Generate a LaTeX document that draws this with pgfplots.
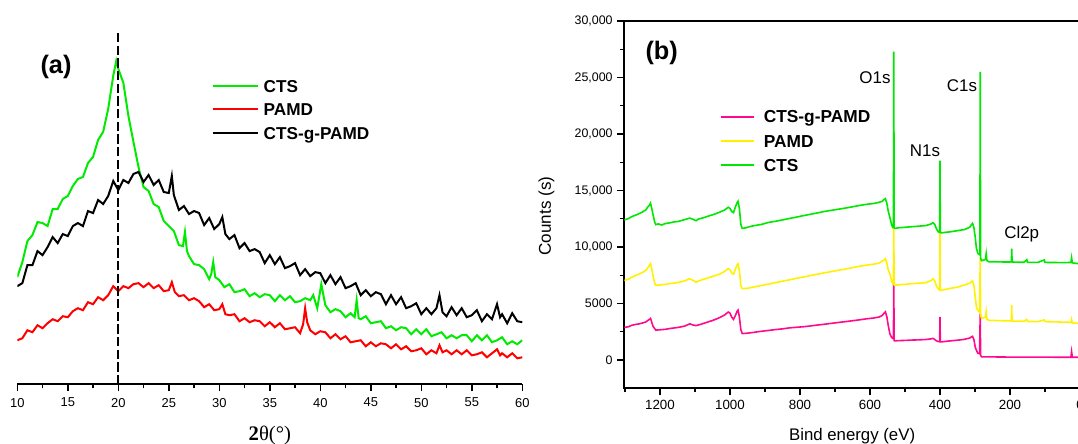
\documentclass[border=0pt]{standalone}
\usepackage{fontspec}
\setmainfont{Liberation Sans}
\newfontfamily\serifont{Liberation Serif}
\usepackage{pgfplots}
\pgfplotsset{compat=1.18}
\definecolor{xgreen}{RGB}{0,235,0}
\definecolor{xred}{RGB}{255,0,0}
\definecolor{ppink}{RGB}{255,10,140}
\definecolor{pyellow}{RGB}{255,242,0}
\definecolor{pgreen}{RGB}{0,232,0}
\begin{document}
\begin{tikzpicture}
\path[use as bounding box] (0,0) rectangle (808.5pt,332.25pt);
% ---------------- panel (a) ----------------
\begin{axis}[
  at={(12.975pt,44.0pt)}, anchor=south west, scale only axis,
  width=378.75pt, height=264.45pt,
  xmin=10, xmax=60, ymin=0, ymax=352,
  axis x line*=bottom, axis y line*=left,
  y axis line style={opacity=0}, ytick=\empty,
  x axis line style={line width=1.5pt, black},
  xtick={10,15,...,60}, minor xtick={12.5,17.5,...,57.5},
  tick align=outside, major tick length=5.25pt, minor tick length=3pt,
  every tick/.style={black, line width=1.1pt},
  /pgf/number format/assume math mode=true,
  xticklabel style={font=\fontsize{9.7}{11}\selectfont, yshift=-1.5pt},
  xlabel={{\serifont\bfseries 2}{\serifont θ(°)}},
  xlabel style={font=\fontsize{15.5}{17}\selectfont, at={(axis description cs:0.5,-0.158)}, anchor=base},
  clip=true,
]
\addplot[xgreen, line width=1.5pt] coordinates {(10,107)(10.5,122)(11,143)(11.5,149)(12,162)(12.5,161)(13,158)(13.5,175)(14,175)(14.5,185)(15,188)(15.5,198)(16,205)(16.5,207)(17,221)(17.5,227)(18,244)(18.5,252)(19,275)(19.5,308)(19.8,323)(20,315)(20.5,301)(21,268)(21.5,242)(22,217)(22.5,197)(23,193)(23.5,180)(24,177)(24.5,163)(25,158)(25.5,153)(26,139)(26.4,138)(26.6,152)(26.8,133)(27,128)(27.5,120)(28,119)(28.5,115)(29,105)(29.2,110)(29.4,122)(29.6,107)(30,104)(30.5,97)(31,100)(31.5,92)(32,93)(32.5,95)(33,88)(33.5,91)(34,87)(34.5,90)(35,89)(35.5,83)(36,89)(36.5,84)(37,88)(37.5,82)(38,83)(38.5,86)(39,84)(39.3,89)(39.7,76)(40.1,100)(40.5,79)(41,72)(41.5,75)(42,73)(42.5,67)(43,71)(43.4,67)(43.6,84)(43.8,66)(44,65)(44.5,68)(45,61)(45.5,62)(46,63)(46.5,56)(47,58)(47.5,54)(48,57)(48.5,56)(49,50)(49.5,55)(50,50)(50.5,55)(51,48)(51.5,50)(52,52)(52.5,46)(53,49)(53.5,46)(54,49)(54.5,49)(55,43)(55.5,49)(56,44)(56.5,49)(57,42)(57.5,44)(58,47)(58.5,40)(59,43)(59.5,40)(60,44)};
\addplot[xred, line width=1.5pt] coordinates {(10,44)(10.5,46)(11,54)(11.5,52)(12,59)(12.5,56)(13,61)(13.5,65)(14,63)(14.5,68)(15,67)(15.5,73)(16,76)(16.5,74)(17,82)(17.5,80)(18,87)(18.5,84)(19,89)(19.5,98)(20,93)(20.5,98)(21,96)(21.5,100)(22,101)(22.5,97)(23,101)(23.5,96)(24,99)(24.5,93)(25,94)(25.3,102)(25.6,92)(26,88)(26.5,89)(27,84)(27.5,86)(28,83)(28.5,77)(29,80)(29.5,74)(30,75)(30.3,80)(30.6,70)(31,69)(31.5,70)(32,63)(32.5,66)(33,62)(33.5,64)(34,63)(34.5,58)(35,62)(35.5,57)(36,61)(36.5,55)(37,56)(37.5,57)(38,51)(38.3,60)(38.5,76)(38.7,62)(39,54)(39.5,50)(40,53)(40.5,52)(41,46)(41.5,50)(42,45)(42.5,48)(43,42)(43.5,43)(44,44)(44.5,38)(45,42)(45.5,38)(46,41)(46.5,40)(47,36)(47.5,40)(48,35)(48.5,38)(49,33)(49.5,34)(50,36)(50.5,30)(51,34)(51.5,31)(51.8,39)(52.1,32)(52.5,34)(53,30)(53.5,34)(54,30)(54.5,34)(55,29)(55.5,30)(56,32)(56.5,27)(57,31)(57.5,35)(57.8,29)(58,31)(58.5,27)(59,31)(59.5,26)(60,27)};
\addplot[black, line width=1.5pt] coordinates {(10,98)(10.5,101)(11,119)(11.5,119)(12,133)(12.5,129)(13,137)(13.5,147)(14,141)(14.5,150)(15,148)(15.5,158)(16,161)(16.5,158)(17,173)(17.5,171)(18,184)(18.5,180)(19,188)(19.5,203)(20,194)(20.5,204)(21,201)(21.5,210)(22,212)(22.5,202)(23,209)(23.5,199)(24,204)(24.5,192)(25,191)(25.3,208)(25.5,189)(26,174)(26.5,178)(27,170)(27.5,173)(28,171)(28.5,159)(29,166)(29.5,155)(30,160)(30.3,167)(30.6,150)(31,145)(31.5,149)(32,136)(32.5,141)(33,133)(33.5,135)(34,132)(34.5,121)(35,129)(35.5,120)(36,127)(36.5,116)(37,118)(37.5,121)(38,109)(38.5,115)(39,108)(39.5,112)(40,111)(40.5,101)(41,109)(41.5,100)(42,107)(42.5,96)(43,98)(43.5,101)(44,89)(44.5,94)(45,88)(45.5,92)(46,90)(46.5,80)(47,89)(47.5,80)(48,87)(48.5,76)(49,78)(49.5,81)(50,70)(50.5,76)(51,70)(51.5,76)(51.8,89)(52.1,72)(52.5,68)(53,77)(53.5,69)(54,76)(54.5,67)(55,69)(55.5,74)(56,63)(56.5,70)(57,65)(57.5,80)(57.8,67)(58,70)(58.5,61)(59,71)(59.5,63)(60,62)};
\addplot[black, line width=1.3pt, dash pattern=on 7pt off 2.5pt] coordinates {(20,0)(20,352)};
\end{axis}
% ---------------- panel (b) ----------------
\begin{axis}[
  at={(468.2pt,41.0pt)}, anchor=south west, scale only axis,
  width=341.8pt, height=275.5pt,
  x dir=reverse, xmin=0, xmax=1302, ymin=-2500, ymax=30000,
  axis line style={line width=1.3pt},
  xtick={0,200,...,1200}, minor xtick={100,300,...,1300},
  ytick={0,5000,...,30000}, minor ytick={2500,7500,...,27500},
  yticklabels={0,5000,{10,000},{15,000},{20,000},{25,000},{30,000}},
  scaled ticks=false,
  xtick pos=bottom, ytick pos=left,
  tick align=outside, major tick length=5.25pt, minor tick length=3pt,
  every tick/.style={black, line width=1pt},
  /pgf/number format/assume math mode=true,
  /pgf/number format/1000 sep={},
  xticklabel style={font=\fontsize{10}{12}\selectfont},
  yticklabel style={font=\fontsize{9.3}{11}\selectfont},
  xlabel={Bind energy (eV)},
  xlabel style={font=\fontsize{12.6}{14}\selectfont, at={(axis description cs:0.5,-0.1408)}, anchor=base},
  ylabel={Counts (s)},
  ylabel style={font=\fontsize{12.8}{14}\selectfont, at={(axis description cs:-0.1705,0.469)}, anchor=center},
  clip=true,
]
\addplot[ppink, line width=1.2pt] coordinates {(1302,2880)(1290,2950)(1280,3080)(1270,3150)(1260,3200)(1250,3280)(1240,3380)(1235,3500)(1230,3600)(1227,3680)(1224,3400)(1220,3000)(1215,2780)(1212,2650)(1200,2680)(1185,2720)(1170,2800)(1150,2880)(1130,3000)(1115,3200)(1105,3100)(1097,3050)(1085,3150)(1070,3300)(1050,3500)(1030,3750)(1015,4000)(1005,4250)(1000,4150)(995,3800)(990,3600)(985,3900)(980,4300)(977,4420)(973,3800)(969,2700)(965,2350)(950,2380)(930,2460)(910,2550)(890,2620)(870,2700)(850,2760)(830,2850)(810,2900)(790,2950)(770,3020)(750,3100)(730,3170)(710,3250)(690,3330)(670,3400)(650,3480)(630,3560)(610,3650)(590,3720)(575,3800)(565,3950)(560,4150)(556,4270)(552,3850)(548,3100)(543,2300)(538,2000)(535,1920)(533,1900)(532,7050)(531,1720)(528,1700)(520,1720)(500,1740)(480,1770)(460,1790)(440,1820)(425,1880)(420,1920)(415,1820)(410,1700)(405,1640)(401,1620)(400,3820)(399,1620)(395,1610)(385,1650)(370,1700)(350,1760)(333,1820)(315,1950)(310,2060)(307,2100)(303,1800)(299,1100)(296,880)(292,600)(287,560)(285,4100)(284,400)(281,290)(270,280)(250,280)(220,270)(200,265)(160,260)(120,255)(80,255)(40,250)(26,250)(24,740)(22,250)(10,250)(0,240)};
\addplot[pyellow, line width=1.2pt] coordinates {(1302,7050)(1290,7150)(1280,7350)(1270,7480)(1260,7600)(1250,7750)(1240,7950)(1235,8150)(1230,8380)(1227,8520)(1224,8150)(1220,7500)(1215,6800)(1212,6620)(1200,6650)(1185,6700)(1170,6780)(1150,6850)(1130,7000)(1115,7200)(1105,7050)(1097,6900)(1085,7050)(1070,7200)(1050,7400)(1030,7600)(1015,7850)(1005,8100)(1000,8000)(995,7700)(990,7600)(985,8000)(980,8400)(977,8520)(973,7900)(969,6600)(965,6320)(950,6350)(930,6480)(910,6600)(890,6720)(870,6850)(850,6980)(830,7100)(810,7230)(790,7350)(770,7480)(750,7600)(730,7720)(710,7830)(690,7950)(670,8050)(650,8180)(630,8300)(610,8400)(590,8480)(575,8560)(565,8750)(560,8850)(556,8970)(552,8600)(548,8000)(543,7600)(538,7000)(535,6760)(533,6750)(532,11900)(531,6650)(528,6620)(520,6650)(500,6700)(480,6760)(460,6800)(440,6850)(425,7050)(420,7200)(415,7000)(410,6550)(405,6300)(401,6200)(400,11450)(399,6180)(395,6170)(385,6250)(370,6350)(350,6450)(333,6620)(315,6800)(310,6950)(307,7000)(303,6600)(299,5500)(296,4700)(292,4400)(287,4260)(285,9100)(284,4000)(281,3680)(275,3750)(270,3800)(268,4260)(266,3600)(260,3520)(240,3500)(220,3480)(200,3470)(196,3480)(195,4850)(194,3450)(180,3440)(160,3430)(152,3590)(150,3420)(120,3400)(102,3560)(100,3400)(70,3380)(40,3350)(26,3340)(24,3600)(22,3300)(10,3260)(0,3230)};
\addplot[pgreen, line width=1.2pt] coordinates {(1302,12400)(1290,12520)(1280,12700)(1270,12820)(1260,12950)(1250,13100)(1240,13300)(1235,13550)(1230,13700)(1227,13880)(1224,13500)(1220,12900)(1215,12200)(1212,11980)(1205,12050)(1195,11950)(1185,12080)(1170,12150)(1160,12230)(1150,12250)(1130,12420)(1115,12560)(1105,12450)(1097,12330)(1090,12480)(1075,12600)(1060,12760)(1045,12900)(1030,13080)(1015,13280)(1005,13520)(1000,13420)(995,13150)(990,13050)(985,13500)(980,13900)(977,14050)(973,13400)(969,12000)(965,11650)(955,11700)(945,11800)(930,11900)(910,12000)(890,12180)(870,12280)(850,12400)(830,12530)(810,12650)(790,12780)(770,12900)(750,13020)(730,13150)(710,13250)(690,13350)(670,13450)(650,13560)(630,13680)(610,13780)(590,13850)(575,13950)(565,14050)(560,14200)(556,14280)(552,13900)(548,13200)(543,12600)(538,11950)(535,11750)(533,11800)(532,27300)(531,11700)(528,11650)(520,11700)(500,11750)(480,11800)(460,11850)(440,11900)(425,12050)(420,12150)(415,12000)(410,11600)(405,11350)(401,11300)(400,17640)(399,11300)(395,11250)(385,11300)(370,11350)(350,11450)(330,11550)(315,11750)(310,12000)(307,12100)(303,11700)(299,10800)(296,9900)(292,9450)(286,9300)(285,25500)(284,9000)(281,8800)(275,8850)(270,8900)(268,9400)(266,8800)(260,8700)(240,8700)(220,8680)(200,8680)(196,8700)(195,9850)(194,8680)(180,8660)(160,8650)(152,8880)(150,8650)(120,8640)(102,8860)(100,8640)(70,8630)(40,8620)(26,8640)(24,9050)(22,8600)(10,8550)(0,8520)};
\end{axis}
% ---------------- legends and annotations (pixel coordinates) ----------------
\begin{scope}[x=0.75pt, y=-0.75pt, shift={(0pt,332.25pt)}]
  \node[font=\fontsize{19}{21}\selectfont\bfseries] at (56,66.7) {(a)};
  \draw[xgreen, line width=1.3pt] (212.8,86) -- (258.3,86);
  \draw[xred, line width=1.3pt] (212.8,109.3) -- (258.3,109.3);
  \draw[black, line width=1.3pt] (212.8,133.3) -- (258.3,133.3);
  \node[font=\fontsize{12.9}{14}\selectfont\bfseries, anchor=base west, inner sep=0pt] at (263.4,92.2) {CTS};
  \node[font=\fontsize{12.9}{14}\selectfont\bfseries, anchor=base west, inner sep=0pt] at (263.4,115.5) {PAMD};
  \node[font=\fontsize{12.9}{14}\selectfont\bfseries, anchor=base west, inner sep=0pt] at (263.4,139.5) {CTS-g-PAMD};
  \node[font=\fontsize{19}{21}\selectfont\bfseries] at (661.7,53.3) {(b)};
  \draw[ppink, line width=1.3pt] (720.5,116.7) -- (753.7,116.7);
  \draw[pyellow, line width=1.3pt] (720.5,141) -- (753.7,141);
  \draw[pgreen, line width=1.3pt] (720.5,165) -- (753.7,165);
  \node[font=\fontsize{13}{15}\selectfont\bfseries, anchor=base west, inner sep=0pt] at (763.5,123) {CTS-g-PAMD};
  \node[font=\fontsize{13}{15}\selectfont\bfseries, anchor=base west, inner sep=0pt] at (763.5,147.3) {PAMD};
  \node[font=\fontsize{13}{15}\selectfont\bfseries, anchor=base west, inner sep=0pt] at (763.5,171.3) {CTS};
  \node[font=\fontsize{12.7}{14}\selectfont, anchor=base, inner sep=0pt] at (875,83.3) {O1s};
  \node[font=\fontsize{12.7}{14}\selectfont, anchor=base, inner sep=0pt] at (962,92) {C1s};
  \node[font=\fontsize{12.7}{14}\selectfont, anchor=base, inner sep=0pt] at (925,157) {N1s};
  \node[font=\fontsize{12.7}{14}\selectfont, anchor=base, inner sep=0pt] at (1021.7,239) {Cl2p};
\end{scope}
\end{tikzpicture}
\end{document}
